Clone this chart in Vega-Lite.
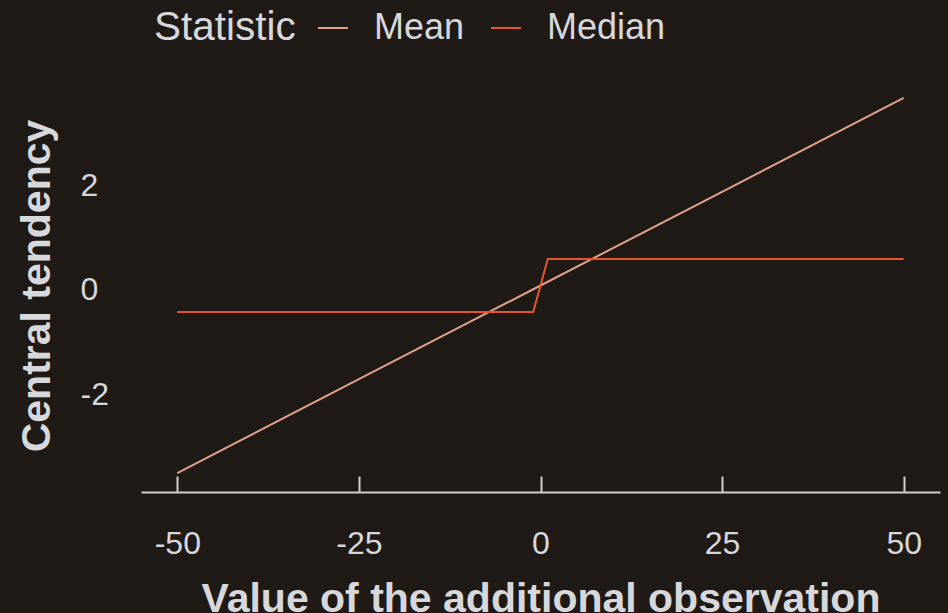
{
  "$schema": "https://vega.github.io/schema/vega-lite/v6.json",
  "width": 799,
  "height": 413,
  "autosize": "none",
  "padding": {"left": 141, "top": 79, "right": 8, "bottom": 121},
  "background": "#201A17",
  "config": {"view": {"stroke": null}, "font": "Liberation Sans"},
  "data": {
    "values": [
      {"x": -50, "value": -3.49, "Statistic": "Mean"},
      {"x": -25, "value": -1.70, "Statistic": "Mean"},
      {"x": 0, "value": 0.085, "Statistic": "Mean"},
      {"x": 25, "value": 1.87, "Statistic": "Mean"},
      {"x": 50, "value": 3.66, "Statistic": "Mean"},
      {"x": -50, "value": -0.42, "Statistic": "Median"},
      {"x": -1, "value": -0.42, "Statistic": "Median"},
      {"x": 0, "value": 0.085, "Statistic": "Median"},
      {"x": 1, "value": 0.59, "Statistic": "Median"},
      {"x": 50, "value": 0.59, "Statistic": "Median"}
    ]
  },
  "mark": {"type": "line", "strokeWidth": 2},
  "encoding": {
    "x": {
      "field": "x",
      "type": "quantitative",
      "scale": {"domain": [-55, 55], "nice": false, "zero": false},
      "axis": {
        "values": [-50, -25, 0, 25, 50],
        "labelExpr": "datum.value + ''",
        "title": "Value of the additional observation",
        "grid": false,
        "domainColor": "#CFCFCF",
        "domainWidth": 2,
        "tickColor": "#CFCFCF",
        "tickWidth": 2,
        "tickSize": -16,
        "labelPadding": 52,
        "labelFontSize": 32,
        "labelColor": "#D6D8DC",
        "labelFlush": false,
        "titleFontSize": 41,
        "titleFontWeight": "bold",
        "titleColor": "#D6D8DC",
        "titleX": 399.5,
        "titleY": 119,
        "titleBaseline": "alphabetic"
      }
    },
    "y": {
      "field": "value",
      "type": "quantitative",
      "scale": {"domain": [-3.85, 4.02], "nice": false, "zero": false},
      "axis": {
        "values": [-2, 0, 2],
        "labelExpr": "datum.value + ''",
        "title": "Central tendency",
        "grid": false,
        "domain": false,
        "ticks": false,
        "labelPadding": 61,
        "labelAlign": "left",
        "labelFontSize": 32,
        "labelColor": "#D6D8DC",
        "titleFontSize": 41,
        "titleFontWeight": "bold",
        "titleColor": "#D6D8DC",
        "titleX": -92,
        "titleY": 206.5,
        "titleAngle": -90,
        "titleBaseline": "alphabetic"
      }
    },
    "color": {
      "field": "Statistic",
      "type": "nominal",
      "scale": {"domain": ["Mean", "Median"], "range": ["#E2A189", "#E4572E"]},
      "legend": {
        "orient": "none",
        "direction": "horizontal",
        "legendX": 13,
        "legendY": -69,
        "titleOrient": "left",
        "symbolType": "stroke",
        "symbolSize": 900,
        "symbolStrokeWidth": 2,
        "labelFontSize": 36,
        "labelColor": "#D6D8DC",
        "titleFontSize": 40.5,
        "titleFontWeight": "normal",
        "titleColor": "#D6D8DC",
        "labelOffset": 23,
        "columnPadding": 22,
        "titlePadding": 19,
        "padding": 0
      }
    }
  }
}
